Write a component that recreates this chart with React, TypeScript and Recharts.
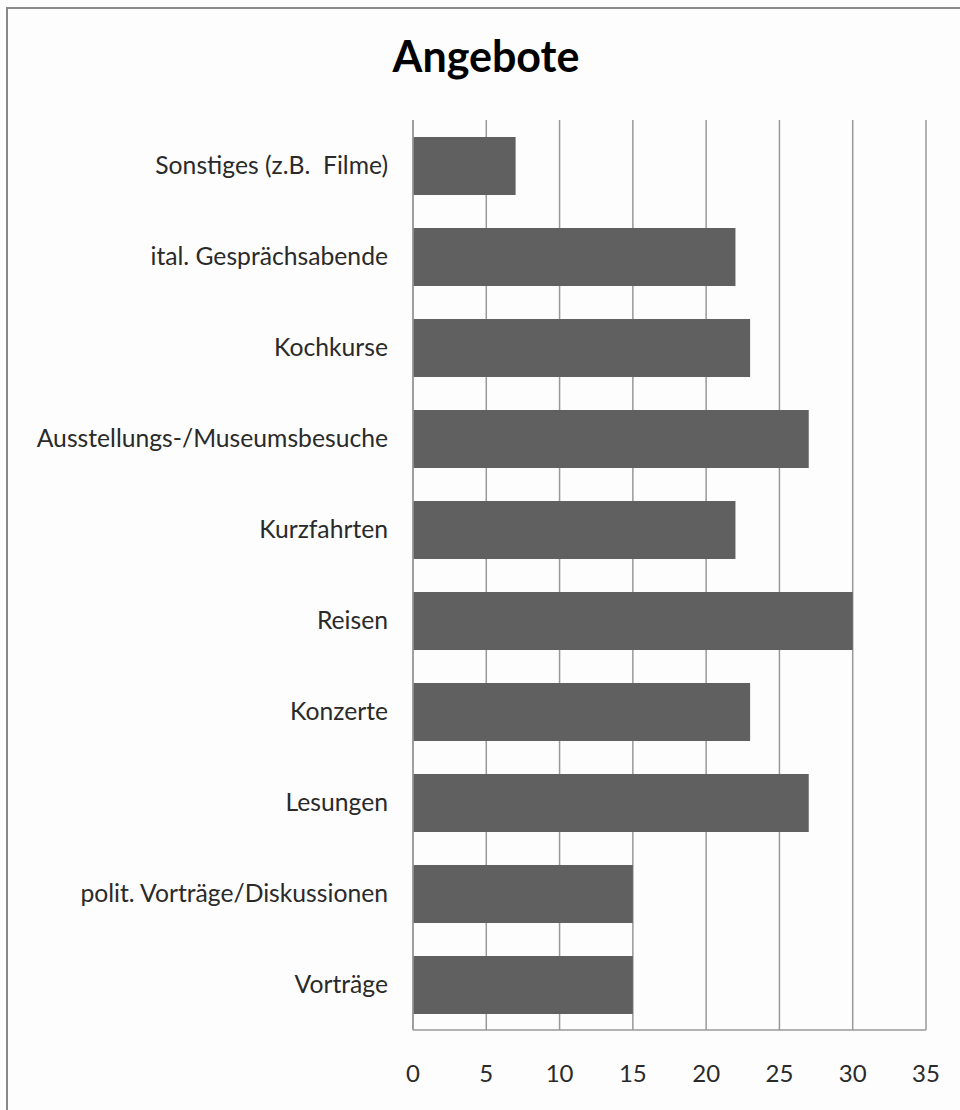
import React from "react";
import { BarChart, Bar, XAxis, YAxis, CartesianGrid } from "recharts";

const categories = [
  "Sonstiges (z.B.\u00A0 Filme)",
  "ital. Gesprächsabende",
  "Kochkurse",
  "Ausstellungs-/Museumsbesuche",
  "Kurzfahrten",
  "Reisen",
  "Konzerte",
  "Lesungen",
  "polit. Vorträge/Diskussionen",
  "Vorträge",
];
const values = [7, 22, 23, 27, 22, 30, 23, 27, 15, 15];
const xTicks = [0, 5, 10, 15, 20, 25, 30, 35];
const title = "Angebote";

const data = categories.map((name, i) => ({ name, value: values[i] }));

const FONT = "Lato, 'Open Sans', sans-serif";

export default function App() {
  return (
    <div style={{ position: "absolute", left: 0, top: 0, width: 960, height: 1110, background: "#fdfdfd", overflow: "hidden" }}>
      <div
        style={{
          position: "absolute",
          left: 6,
          top: 7,
          width: 954,
          height: 1103,
          boxSizing: "border-box",
          borderLeft: "2px solid #8a8a8a",
          borderTop: "2px solid #8a8a8a",
        }}
      />
      <div
        style={{
          position: "absolute",
          left: 0,
          top: 36,
          width: 972,
          textAlign: "center",
          fontFamily: FONT,
          fontWeight: 700,
          fontSize: 43,
          lineHeight: "40px",
          color: "#000",
        }}
      >
        {title}
      </div>
      <div style={{ position: "absolute", left: 0, top: 0 }}>
        <BarChart
          width={960}
          height={1110}
          data={data}
          layout="vertical"
          margin={{ top: 120, right: 34, bottom: 0, left: 0 }}
        >
          <CartesianGrid horizontal={false} vertical={true} stroke="#999999" strokeWidth={1.5} />
          <XAxis
            type="number"
            domain={[0, 35]}
            ticks={xTicks}
            interval={0}
            height={80}
            tickLine={false}
            tickSize={0}
            tickMargin={35}
            axisLine={{ stroke: "#999999", strokeWidth: 1.5 }}
            tick={{ fill: "#2a2a2a", fontSize: 24, fontFamily: FONT }}
          />
          <YAxis
            type="category"
            dataKey="name"
            width={413}
            interval={0}
            tickLine={false}
            tickSize={0}
            tickMargin={25}
            axisLine={{ stroke: "#999999", strokeWidth: 1.5 }}
            tick={{ fill: "#2a2a2a", fontSize: 24.7, fontFamily: FONT }}
          />
          <Bar dataKey="value" fill="#606060" barSize={58} isAnimationActive={false} />
        </BarChart>
      </div>
    </div>
  );
}
